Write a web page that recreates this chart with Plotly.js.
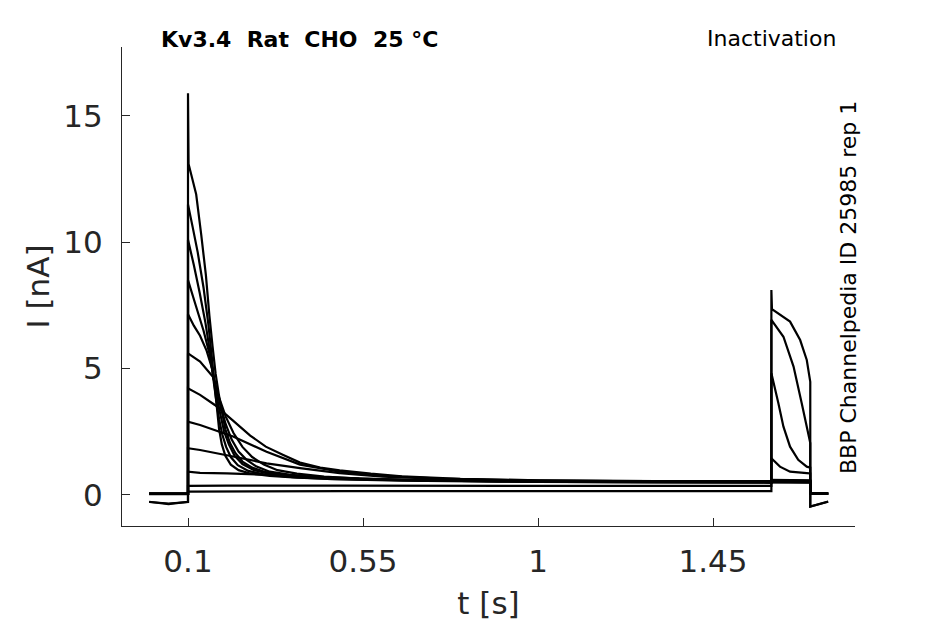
<!DOCTYPE html>
<html>
<head>
<meta charset="utf-8">
<script src="https://cdn.plot.ly/plotly-3.0.1.min.js"></script>
<style>
    html, body { margin: 0; padding: 0; background: #ffffff; }
    #inactivation-graph-container { width: 945px; height: 624px; }
</style>
</head>
<body>
<div id="inactivation-graph-container"></div>
<script>

// tick positions
const timeTicks = [0.1, 0.55, 1, 1.45];
const currentTicks = [0, 5, 10, 15];

// one pair of arrays per sweep: time [s] and current [nA]
const sweep01T = [0, 0.1, 0.1, 0.1015, 0.121, 0.134, 0.146, 0.155, 0.163, 0.171, 0.179, 0.186, 0.196, 0.208, 0.222, 0.24, 0.265, 0.3, 0.36, 0.44, 0.55, 0.75, 1.0, 1.3, 1.6, 1.6, 1.7, 1.7, 1.746];
const sweep01I = [0.04, 0.04, 15.9, 13.1, 11.9, 10.3, 8.7, 7.1, 5.9, 4.8, 4.0, 3.4, 2.6, 2.05, 1.65, 1.32, 1.08, 0.9, 0.77, 0.69, 0.63, 0.58, 0.56, 0.55, 0.55, 0.58, 0.56, 0.04, 0.05];

const sweep02T = [0, 0.1, 0.1, 0.112, 0.125, 0.14, 0.152, 0.161, 0.168, 0.174, 0.18, 0.187, 0.196, 0.21, 0.23, 0.26, 0.31, 0.38, 0.47, 0.6, 0.8, 1.1, 1.6, 1.6, 1.7, 1.7, 1.746];
const sweep02I = [0.04, 0.04, 11.5, 10.6, 9.6, 8.2, 6.8, 5.5, 4.4, 3.5, 2.6, 2.0, 1.55, 1.2, 0.98, 0.85, 0.75, 0.68, 0.63, 0.59, 0.56, 0.54, 0.53, 0.55, 0.54, 0.05, 0.06];

const sweep03T = [0, 0.05, 0.1, 0.1, 0.115, 0.13, 0.145, 0.157, 0.166, 0.173, 0.18, 0.188, 0.198, 0.21, 0.228, 0.255, 0.3, 0.37, 0.47, 0.65, 0.9, 1.2, 1.6, 1.6, 1.7, 1.7, 1.746];
const sweep03I = [-0.28, -0.34, -0.28, 10.1, 9.1, 8.0, 6.8, 5.6, 4.5, 3.7, 3.0, 2.4, 1.9, 1.5, 1.18, 0.95, 0.8, 0.7, 0.62, 0.57, 0.53, 0.51, 0.5, 0.52, 0.5, -0.46, -0.26];

const sweep04T = [0, 0.1, 0.1, 0.12, 0.14, 0.155, 0.165, 0.174, 0.183, 0.193, 0.205, 0.22, 0.24, 0.27, 0.31, 0.38, 0.48, 0.65, 0.9, 1.2, 1.6, 1.6, 1.7, 1.7, 1.746];
const sweep04I = [0.03, 0.03, 8.5, 7.5, 6.5, 5.6, 4.7, 3.9, 3.2, 2.5, 2.0, 1.55, 1.22, 0.98, 0.83, 0.72, 0.64, 0.58, 0.54, 0.52, 0.52, 0.57, 0.55, 0.04, 0.05];

const sweep05T = [0, 0.1, 0.1, 0.115, 0.131, 0.148, 0.162, 0.173, 0.184, 0.197, 0.212, 0.23, 0.25, 0.275, 0.31, 0.36, 0.43, 0.52, 0.65, 0.9, 1.2, 1.6, 1.6, 1.7, 1.7, 1.746];
const sweep05I = [0.04, 0.04, 7.15, 6.7, 6.3, 5.7, 5.0, 4.2, 3.5, 2.8, 2.2, 1.72, 1.4, 1.13, 0.92, 0.8, 0.7, 0.64, 0.59, 0.55, 0.53, 0.53, 0.6, 0.58, 0.05, 0.05];

const sweep06T = [0, 0.1, 0.1, 0.131, 0.164, 0.18, 0.197, 0.217, 0.24, 0.265, 0.295, 0.33, 0.38, 0.45, 0.54, 0.65, 0.85, 1.1, 1.6, 1.6, 1.7, 1.7, 1.746];
const sweep06I = [0.05, 0.05, 5.6, 5.28, 4.68, 3.85, 3.1, 2.45, 1.9, 1.5, 1.2, 0.98, 0.84, 0.73, 0.65, 0.6, 0.56, 0.54, 0.53, 0.5, 0.5, 0.05, 0.06];

const sweep07T = [0, 0.1, 0.1, 0.131, 0.169, 0.215, 0.26, 0.3, 0.345, 0.388, 0.44, 0.49, 0.57, 0.65, 0.8, 1.0, 1.3, 1.6, 1.6, 1.7, 1.7, 1.746];
const sweep07I = [0.04, 0.04, 4.22, 3.96, 3.56, 2.95, 2.35, 1.91, 1.58, 1.28, 1.08, 0.97, 0.84, 0.74, 0.64, 0.58, 0.55, 0.54, 0.56, 0.55, 0.04, 0.05];

const sweep08T = [0, 0.1, 0.1, 0.131, 0.216, 0.302, 0.388, 0.49, 0.6, 0.75, 0.95, 1.2, 1.6, 1.6, 1.7, 1.7, 1.746];
const sweep08I = [0.04, 0.04, 2.9, 2.77, 2.31, 1.71, 1.2, 0.92, 0.76, 0.65, 0.58, 0.55, 0.53, 0.52, 0.5, 0.04, 0.05];

const sweep09T = [0, 0.1, 0.1, 0.131, 0.216, 0.302, 0.388, 0.49, 0.6, 0.75, 0.95, 1.2, 1.6, 1.6, 1.622, 1.648, 1.691, 1.7, 1.7, 1.746];
const sweep09I = [0.04, 0.04, 1.85, 1.78, 1.52, 1.25, 1.06, 0.86, 0.72, 0.63, 0.56, 0.52, 0.5, 1.45, 1.12, 0.92, 0.86, 0.85, 0.05, 0.05];

const sweep10T = [0, 0.1, 0.1, 0.131, 0.2, 0.3, 0.4, 0.52, 0.65, 0.8, 1.0, 1.3, 1.6, 1.6, 1.618, 1.631, 1.648, 1.669, 1.691, 1.7, 1.7, 1.746];
const sweep10I = [0.04, 0.04, 0.92, 0.87, 0.85, 0.8, 0.74, 0.67, 0.6, 0.56, 0.52, 0.5, 0.48, 4.82, 3.63, 2.7, 1.91, 1.39, 1.12, 1.08, 0.05, 0.05];

const sweep11T = [0, 0.05, 0.1, 0.1, 0.2, 0.5, 1.0, 1.6, 1.6, 1.631, 1.657, 1.678, 1.691, 1.7, 1.7, 1.746];
const sweep11I = [-0.27, -0.36, -0.27, 0.36, 0.37, 0.37, 0.36, 0.36, 6.93, 6.26, 5.08, 3.63, 2.7, 2.05, -0.46, -0.27];

const sweep12T = [0, 0.1, 0.1, 0.5, 1.0, 1.6, 1.6, 1.6015, 1.648, 1.674, 1.691, 1.7, 1.7, 1.746];
const sweep12I = [0.04, 0.04, 0.13, 0.15, 0.15, 0.15, 8.11, 7.35, 6.86, 6.13, 5.34, 4.48, 0.05, 0.05];

const sweeps = [
    [sweep01T, sweep01I], [sweep02T, sweep02I], [sweep03T, sweep03I], [sweep04T, sweep04I],
    [sweep05T, sweep05I], [sweep06T, sweep06I], [sweep07T, sweep07I], [sweep08T, sweep08I],
    [sweep09T, sweep09I], [sweep10T, sweep10I], [sweep11T, sweep11I], [sweep12T, sweep12I],
];

//  ###################### GRAPH ######################

function drawInactivationGraph(){

    const axisColor = "#262626";
    const fontFamily = "DejaVu Sans, sans-serif";

    const plotData = sweeps.map(([t, i], n) => (
        { x: t, y: i, mode: "lines", name: "sweep " + (n + 1), line: { color: "#000000", width: 2.2, simplify: false }, hoverinfo: "skip" }
    ));

    const plotLayout = {
        width: 945,
        height: 624,
        paper_bgcolor: "#ffffff",
        plot_bgcolor: "#ffffff",
        font: { family: fontFamily, size: 31, color: axisColor },
        margin: { t: 47, b: 98, l: 122, r: 90 },
        showlegend: false,
        xaxis: { range: [-0.0697, 1.815],
                 tickvals: timeTicks,
                 ticktext: timeTicks.map(String),
                 ticks: "inside", ticklen: 8, tickcolor: axisColor, tickwidth: 1,
                 ticklabelstandoff: 8,
                 showline: true, linecolor: axisColor, linewidth: 1,
                 showgrid: false, zeroline: false,
                 tickfont: { size: 31, color: axisColor },
                 title: { text: "t [s]", standoff: 14, font: { size: 31, color: axisColor } } },
        yaxis: { range: [-1.23, 17.73],
                 tickvals: currentTicks,
                 ticks: "inside", ticklen: 8, tickcolor: axisColor, tickwidth: 1,
                 ticklabelstandoff: 12,
                 showline: true, linecolor: axisColor, linewidth: 1,
                 showgrid: false, zeroline: false,
                 tickfont: { size: 31, color: axisColor },
                 title: { text: "I [nA]", standoff: 4, font: { size: 31, color: axisColor } } },
        annotations: [
            // bold title top left
            { text: "Kv3.4\u00a0\u00a0Rat\u00a0\u00a0CHO\u00a0\u00a025\u00a0°C", xref: "paper", yref: "paper",
              x: 0.0505, y: 1.0167, xanchor: "left", yanchor: "middle", showarrow: false,
              font: { family: fontFamily, size: 22, color: "#000000", weight: "bold" } },
            // protocol name top right
            { text: "Inactivation", xref: "paper", yref: "paper",
              x: 0.9768, y: 1.0177, xanchor: "right", yanchor: "middle", showarrow: false,
              font: { family: fontFamily, size: 22, color: "#000000" } },
            // source label along the right edge
            { text: "BBP Channelpedia ID 25985 rep 1", xref: "paper", yref: "paper",
              x: 0.9918, y: 0.499, xanchor: "center", yanchor: "middle", textangle: -90, showarrow: false,
              font: { family: fontFamily, size: 22, color: "#000000" } },
        ],
    };

    const plotConfig = {
        staticPlot: true,
        responsive: false,
    };

    Plotly.newPlot("inactivation-graph-container", plotData, plotLayout, plotConfig);

}

drawInactivationGraph();
</script>
</body>
</html>
